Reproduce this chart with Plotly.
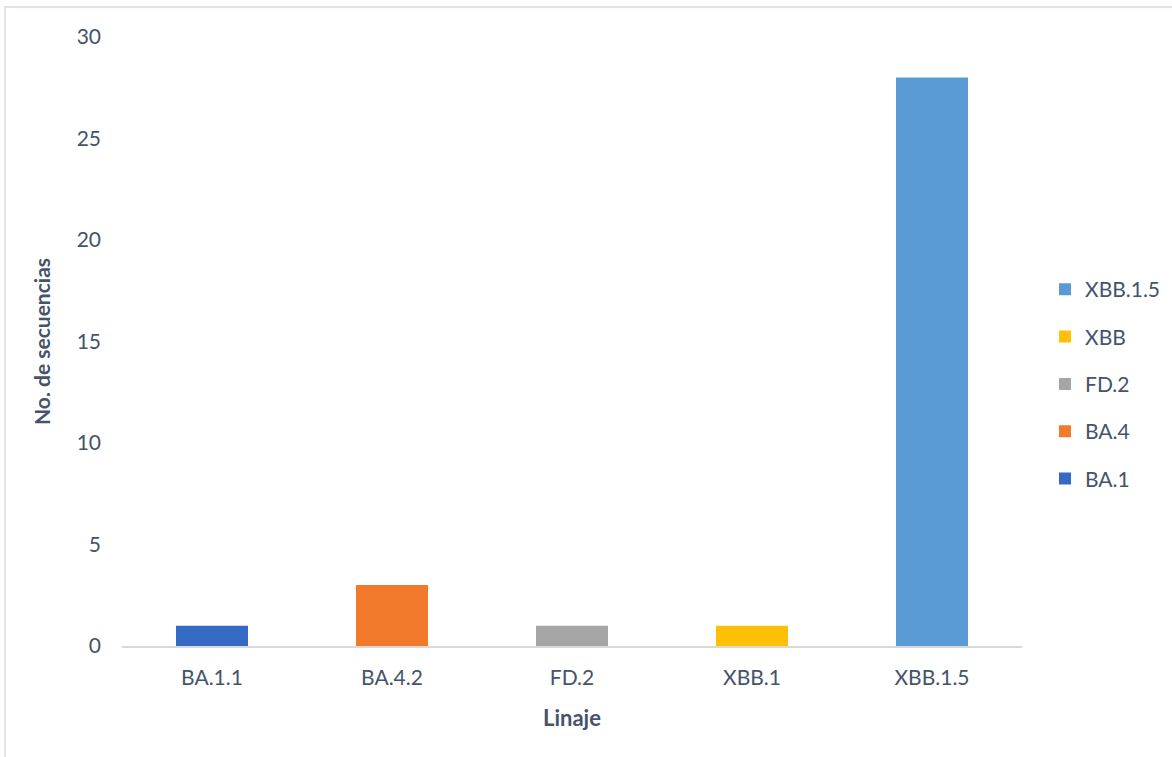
import plotly.graph_objects as go

categories = ["BA.1.1", "BA.4.2", "FD.2", "XBB.1", "XBB.1.5"]
series_names = ["BA.1", "BA.4", "FD.2", "XBB", "XBB.1.5"]
values = [1, 3, 1, 1, 28]
colors = ["#346AC4", "#F27A2C", "#A5A5A5", "#FFC107", "#5B9BD5"]
legend_rank = [5, 4, 3, 2, 1]
y_ticks = [0, 5, 10, 15, 20, 25, 30]

FONT = "Lato, 'Open Sans', sans-serif"
TXT = "#44546A"

fig = go.Figure()
for cat, name, val, col, rk in zip(categories, series_names, values, colors, legend_rank):
    fig.add_trace(go.Bar(
        x=[cat], y=[val], name=name, marker=dict(color=col, line=dict(width=0)),
        width=0.4, legendgroup=name, legendrank=rk, offsetgroup="a",
    ))

W, H = 1172, 757
ml, mr, mt, mb = 122, 150, 37, 111
pw, ph = W - ml - mr, H - mt - mb

def px_x(x):
    return (x - ml) / pw

def px_y(y):
    return (H - mb - y) / ph

fig.update_layout(
    width=W, height=H,
    margin=dict(l=ml, r=mr, t=mt, b=mb, autoexpand=False),
    plot_bgcolor="white", paper_bgcolor="white",
    font=dict(family=FONT, size=21, color=TXT),
    showlegend=True,
    legend=dict(
        traceorder="grouped", tracegroupgap=17,
        xref="container", x=1045 / W, xanchor="left", y=0.43, yanchor="middle",
        font=dict(size=21, color=TXT), itemwidth=30,
    ),
    xaxis=dict(
        showline=True, linecolor="#D9D9D9", linewidth=2, ticks="",
        showgrid=False, tickfont=dict(size=21, color=TXT),
        categoryorder="array", categoryarray=categories,
        title=dict(text="<b>Linaje</b>", font=dict(size=22, color=TXT), standoff=22),
        ticklabelstandoff=12,
    ),
    yaxis=dict(
        range=[0, 30], tickvals=y_ticks, showgrid=False, zeroline=False,
        showline=False, ticks="", tickfont=dict(size=21, color=TXT),
        ticklabelstandoff=20,
        title=dict(text="<b>No. de secuencias</b>", font=dict(size=21, color=TXT), standoff=20),
    ),
    shapes=[
        dict(type="rect", xref="paper", yref="paper",
             x0=px_x(5), x1=px_x(1200), y0=px_y(800), y1=px_y(7),
             line=dict(color="#E0E3EA", width=2), fillcolor="rgba(0,0,0,0)", layer="below"),
    ],
)

fig.write_html("out.html")
